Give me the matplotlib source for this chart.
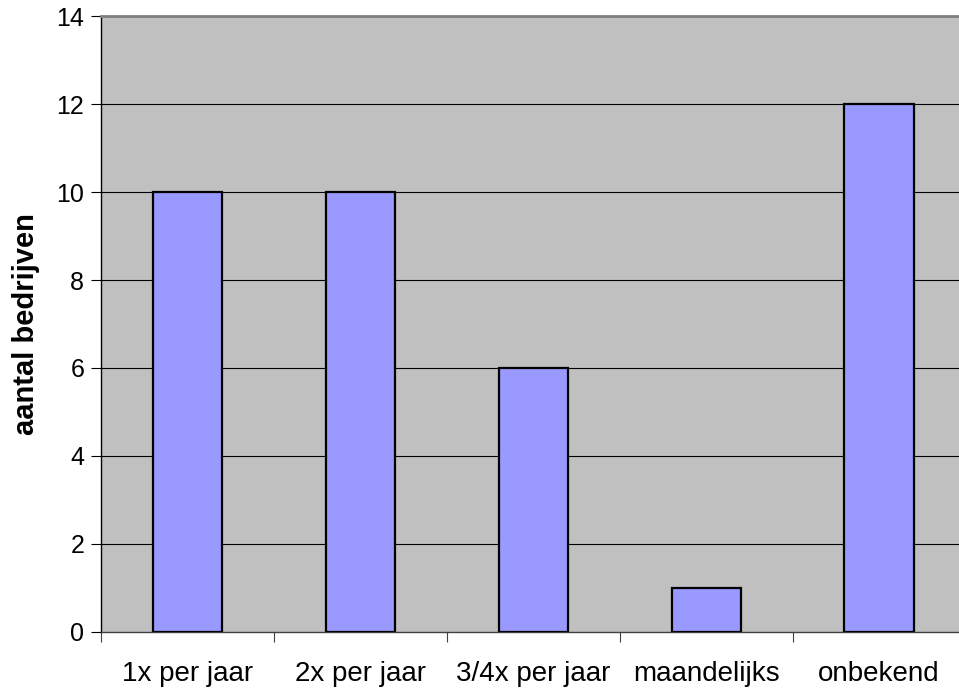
import matplotlib.pyplot as plt
import numpy as np

plt.rcParams['font.family'] = ['Liberation Sans', 'DejaVu Sans']

# data
categories = ['1x per jaar', '2x per jaar', '3/4x per jaar', 'maandelijks', 'onbekend']
counts = [10, 10, 6, 1, 12]
y_ticks = [0, 2, 4, 6, 8, 10, 12, 14]

fig = plt.figure(figsize=(9.59, 6.97), dpi=100)
ax = fig.add_axes([0.1053, 0.0933, 0.9015, 0.8837])
ax.set_facecolor('#C0C0C0')

x = np.arange(len(categories))
ax.bar(x, counts, width=0.4, color='#9999FF', edgecolor='black', linewidth=1.6, zorder=3)

ax.set_xlim(-0.5, len(categories) - 0.5)
ax.set_ylim(0, 14)
ax.set_yticks(y_ticks)
for yv in y_ticks[1:-1]:
    ax.axhline(yv, color='black', linewidth=0.8, zorder=1)

ax.set_xticks(x)
ax.set_xticklabels(categories)
ax.set_xticks(np.arange(len(categories) + 1) - 0.5, minor=True)
ax.tick_params(axis='x', which='major', length=0, pad=21, labelsize=20)
ax.tick_params(axis='x', which='minor', length=7, width=0.8, color='#404040', direction='out')
ax.tick_params(axis='y', length=7, width=0.8, labelsize=18, pad=5, direction='out')

ax.set_ylabel('aantal bedrijven', fontsize=21, fontweight='bold', labelpad=12)

ax.spines['left'].set_color('black')
ax.spines['left'].set_linewidth(1.0)
ax.spines['bottom'].set_color('#404040')
ax.spines['bottom'].set_linewidth(1.0)
ax.spines['top'].set_color('#808080')
ax.spines['top'].set_linewidth(2.0)
ax.spines['right'].set_visible(False)

fig.savefig('out.png', dpi=100, facecolor='white')
